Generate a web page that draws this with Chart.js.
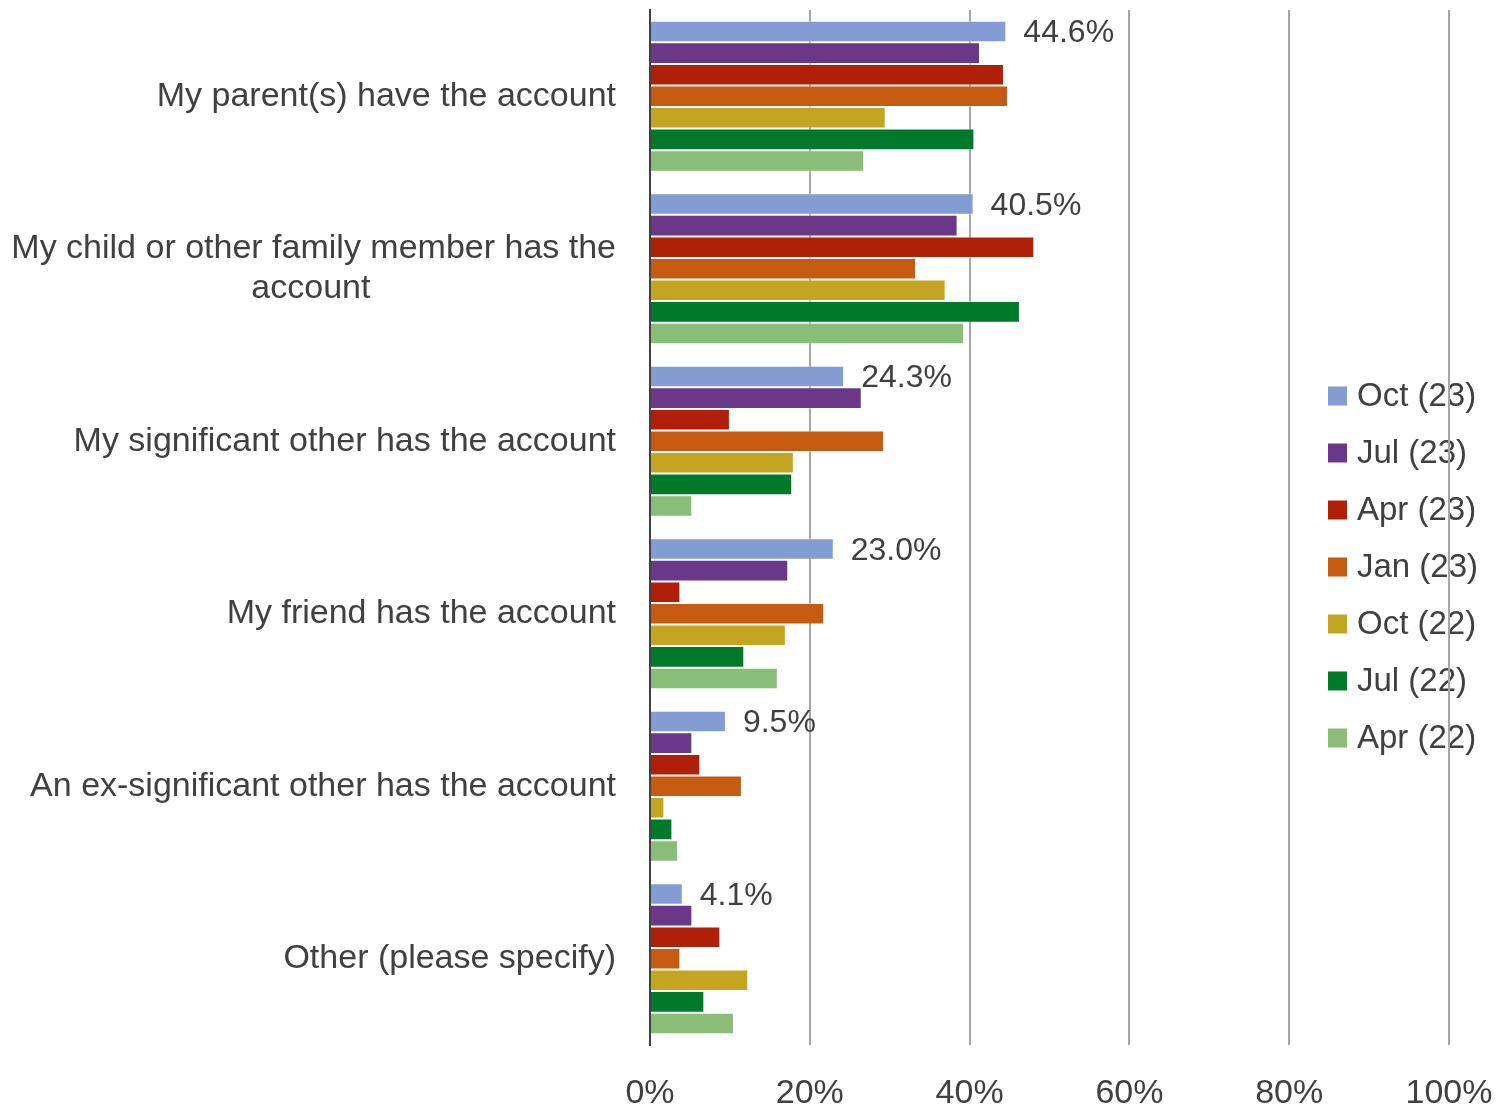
<!DOCTYPE html>
<html>
<head>
<meta charset="utf-8">
<script src="https://cdn.jsdelivr.net/npm/chart.js@4/dist/chart.umd.min.js"></script>
<style>
  body { margin: 0; background: #fff; }
  canvas { display: block; }
</style>
</head>
<body>
<canvas id="accountChart" width="1510" height="1110"></canvas>
<script>
// Categorías (eje Y)
const categories = [
    'My parent(s) have the account',
    ['My child or other family member has the', 'account'],
    'My significant other has the account',
    'My friend has the account',
    'An ex-significant other has the account',
    'Other (please specify)'
];

// Series por ola de encuesta (%)
const oct23 = [44.6, 40.5, 24.3, 23.0, 9.5, 4.1];
const jul23 = [41.3, 38.5, 26.5, 17.3, 5.3, 5.3];
const apr23 = [44.3, 48.1, 10.0, 3.8, 6.3, 8.8];
const jan23 = [44.8, 33.3, 29.3, 21.8, 11.5, 3.8];
const oct22 = [29.5, 37.0, 18.0, 17.0, 1.8, 12.3];
const jul22 = [40.6, 46.3, 17.8, 11.8, 2.8, 6.8];
const apr22 = [26.8, 39.3, 5.3, 16.0, 3.5, 10.5];

const seriesNames = ['Oct (23)', 'Jul (23)', 'Apr (23)', 'Jan (23)', 'Oct (22)', 'Jul (22)', 'Apr (22)'];
const seriesColors = ['#849cd4', '#6a3789', '#b01f08', '#c55a11', '#c4a521', '#007a2a', '#8abd78'];
const seriesData = [oct23, jul23, apr23, jan23, oct22, jul22, apr22];

const xTicks = [0, 20, 40, 60, 80, 100];

const FONT = 'Liberation Sans, Arial, sans-serif';
const TEXT = '#404040';

// centra las líneas cortas de una etiqueta de varias líneas (relleno con espacios)
const measureCtx = document.createElement('canvas').getContext('2d');
measureCtx.font = '34px ' + FONT;
function centerLines(label) {
    if (!Array.isArray(label)) return label;
    const widths = label.map(l => measureCtx.measureText(l).width);
    const maxW = Math.max(...widths);
    const spaceW = measureCtx.measureText(' ').width;
    return label.map((l, i) => l + ' '.repeat(Math.round((maxW - widths[i]) / 2 / spaceW)));
}

// etiquetas de valor solo en la primera serie
const valueLabels = {
    id: 'valueLabels',
    afterDatasetsDraw(chart) {
        const ctx = chart.ctx;
        const meta = chart.getDatasetMeta(0);
        ctx.save();
        ctx.font = '32px ' + FONT;
        ctx.fillStyle = TEXT;
        ctx.textAlign = 'left';
        ctx.textBaseline = 'middle';
        meta.data.forEach((bar, i) => {
            ctx.fillText(oct23[i].toFixed(1) + '%', bar.x + 17, bar.y + 2);
        });
        ctx.restore();
    }
};

// leyenda vertical a la derecha, encima del área del gráfico
const sideLegend = {
    id: 'sideLegend',
    beforeDraw(chart) {
        const ctx = chart.ctx;
        const x = 1328, top = 396, step = 57, box = 19;
        ctx.save();
        ctx.font = '33px ' + FONT;
        ctx.textAlign = 'left';
        ctx.textBaseline = 'middle';
        chart.data.datasets.forEach((ds, i) => {
            const y = top + i * step;
            ctx.fillStyle = ds.backgroundColor;
            ctx.fillRect(x, y - box / 2, box, box);
            ctx.fillStyle = TEXT;
            ctx.fillText(ds.label, x + 29, y + 1);
        });
        ctx.restore();
    }
};

const ctx = document.getElementById('accountChart').getContext('2d');
window.accountChart = new Chart(ctx, {
    type: 'bar',
    data: {
        labels: categories,
        datasets: seriesNames.map((name, i) => ({
            label: name,
            data: seriesData[i],
            backgroundColor: seriesColors[i],
            borderColor: 'rgba(255,255,255,0.45)',
            borderWidth: 1,
            categoryPercentage: 0.875,
            barPercentage: 1.0
        }))
    },
    options: {
        indexAxis: 'y',
        responsive: false,
        animation: false,
        layout: { padding: { top: 10, right: 61, bottom: 0, left: 10 } },
        plugins: {
            legend: { display: false },
            tooltip: { enabled: false }
        },
        scales: {
            x: {
                min: 0,
                max: 100,
                afterBuildTicks: scale => { scale.ticks = xTicks.map(v => ({ value: v })); },
                afterFit: scale => {
                    scale.height = 65;
                    scale.paddingLeft = 0;
                    scale.paddingRight = 0;
                },
                grid: { color: '#a6a6a6', lineWidth: 2, drawTicks: false },
                border: { display: false },
                ticks: {
                    padding: 28,
                    color: TEXT,
                    font: { family: FONT, size: 34 },
                    callback: v => v + '%'
                }
            },
            y: {
                grid: { display: false, drawTicks: false },
                border: { display: true, color: '#404040', width: 2 },
                afterFit: scale => {
                    scale.width = 640;
                    scale.paddingTop = 0;
                    scale.paddingBottom = 0;
                },
                ticks: {
                    padding: 34,
                    color: TEXT,
                    font: { family: FONT, size: 34, lineHeight: 1.18 },
                    callback: function(value) { return centerLines(this.getLabelForValue(value)); }
                }
            }
        }
    },
    plugins: [valueLabels, sideLegend]
});
</script>
</body>
</html>
